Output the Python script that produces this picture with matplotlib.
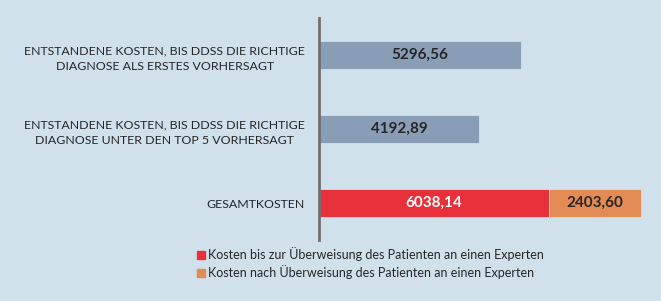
import matplotlib
matplotlib.use("Agg")
import matplotlib.pyplot as plt
from matplotlib.lines import Line2D

# Data
categories = [
    "ENTSTANDENE KOSTEN, BIS DDSS DIE RICHTIGE\nDIAGNOSE ALS ERSTES VORHERSAGT",
    "ENTSTANDENE KOSTEN, BIS DDSS DIE RICHTIGE\nDIAGNOSE UNTER DEN TOP 5 VORHERSAGT",
    "GESAMTKOSTEN",
]
single_costs = [5296.56, 4192.89]
before_referral = 6038.14
after_referral = 2403.60
legend_labels = [
    "Kosten bis zur Überweisung des Patienten an einen Experten",
    "Kosten nach Überweisung des Patienten an einen Experten",
]

BG = "#D0E1EC"
COL_GREY = "#8A9DB6"
COL_RED = "#E8303A"
COL_ORANGE = "#E38B55"
TXT = "#262626"

plt.rcParams["font.family"] = ["Lato", "DejaVu Sans"]

fig = plt.figure(figsize=(6.61, 3.01), dpi=100, facecolor=BG)
ax = fig.add_axes([319 / 661, 61 / 301, 342 / 661, 222 / 301])
ax.set_facecolor(BG)

def fmt(v):
    return f"{v:.2f}".replace(".", ",")

h = 0.37
ypos = [2, 1, 0]
for y, v in zip(ypos[:2], single_costs):
    ax.barh(y, v, height=h, color=COL_GREY, edgecolor=BG, linewidth=0.6)
    ax.text(v / 2, y, fmt(v), ha="center", va="center", fontsize=11,
            fontweight="bold", color=TXT)

ax.barh(0, before_referral, height=h, color=COL_RED, edgecolor=BG, linewidth=0.6)
ax.barh(0, after_referral, left=before_referral, height=h, color=COL_ORANGE,
        edgecolor=BG, linewidth=0.6)
ax.text(before_referral / 2, 0, fmt(before_referral), ha="center", va="center",
        fontsize=11, fontweight="bold", color="white")
ax.text(before_referral + after_referral / 2, 0, fmt(after_referral), ha="center",
        va="center", fontsize=11, fontweight="bold", color=TXT)

ax.set_xlim(0, 8967)
ax.set_ylim(-0.5, 2.5)
ax.set_yticks(ypos)
ax.set_yticklabels(categories, fontsize=8.9, color=TXT, multialignment="center",
                   linespacing=1.55)
ax.tick_params(axis="y", length=0, pad=10)
ax.set_xticks([])
for s in ["top", "right", "bottom"]:
    ax.spines[s].set_visible(False)
ax.spines["left"].set_color("#707070")
ax.spines["left"].set_linewidth(2)

handles = [
    Line2D([], [], marker="s", linestyle="none", markersize=6, color=COL_RED),
    Line2D([], [], marker="s", linestyle="none", markersize=6, color=COL_ORANGE),
]
fig.legend(handles, legend_labels, loc="upper left",
           bbox_to_anchor=(197 / 661, 1 - 247 / 301), frameon=False,
           fontsize=9, handlelength=0.6, handletextpad=0.3, labelspacing=0.35,
           borderpad=0, borderaxespad=0, labelcolor=TXT)

fig.savefig("out.png", dpi=100, facecolor=BG)
